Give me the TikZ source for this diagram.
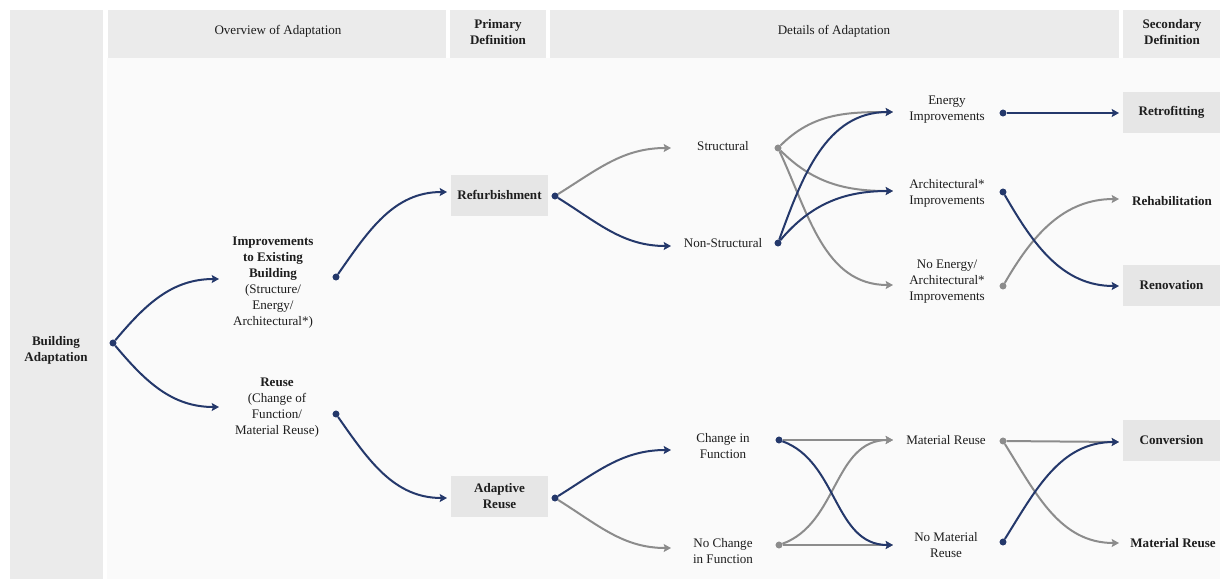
\documentclass[tikz,border=0pt]{standalone}
\usepackage{fontspec}
\setmainfont{Liberation Serif}
\usetikzlibrary{arrows.meta}
\definecolor{navy}{HTML}{24386B}
\definecolor{lgray}{HTML}{8C8C8C}
\definecolor{boxgray}{HTML}{E6E6E6}
\definecolor{hdrgray}{HTML}{EBEBEB}
\definecolor{bggray}{HTML}{FAFAFA}
\definecolor{txt}{HTML}{1E1E1E}
\begin{document}
\begin{tikzpicture}[x=0.75pt,y=0.75pt,
  font=\fontsize{9.8pt}{12pt}\selectfont,
  lbl/.style={align=center, text=txt, inner sep=0pt},
  bl/.style={lbl, font=\fontsize{9.8pt}{12pt}\selectfont\bfseries},
  defbox/.style={fill=boxgray, minimum width=72.75pt, minimum height=30.75pt, inner sep=0pt,
    align=center, text=txt, font=\fontsize{9.8pt}{12pt}\selectfont\bfseries},
  dotb/.style={circle, fill=navy, inner sep=0pt, minimum size=5pt},
  dotg/.style={circle, fill=lgray, inner sep=0pt, minimum size=5pt},
  cb/.style={draw=navy, line width=1.5pt, arrows={-Stealth[length=5.5pt,width=6pt,inset=1pt]}},
  cg/.style={draw=lgray, line width=1.5pt, arrows={-Stealth[length=5.5pt,width=6pt,inset=1pt]}}
]
\useasboundingbox (0,0) rectangle (1220,-579);
% backgrounds
\fill[white] (0,0) rectangle (1220,-579);
\fill[bggray] (107,-58) rectangle (1220,-579);
\fill[hdrgray] (10,-10) rectangle (103,-579);
\fill[hdrgray] (108,-10) rectangle (446,-58);
\fill[hdrgray] (450,-10) rectangle (546,-58);
\fill[hdrgray] (550,-10) rectangle (1119,-58);
\fill[hdrgray] (1123,-10) rectangle (1220,-58);
% header texts
\node[lbl] (h1) at (278,-31) {Overview of Adaptation};
\node[bl] (h2) at (498,-32) {Primary\\Definition};
\node[lbl] (h3) at (834,-31) {Details of Adaptation};
\node[bl] (h4) at (1172,-32) {Secondary\\Definition};

% left column
\node[bl] (ba) at (56,-350) {Building\\Adaptation};
\node[dotb] (dBA) at (113,-343) {};

% overview
\node[lbl] (impr) at (273,-283) {\textbf{Improvements}\\\textbf{to Existing}\\\textbf{Building}\\(Structure/\\Energy/\\Architectural*)};
\node[lbl] (reuse) at (277,-408) {\textbf{Reuse}\\(Change of\\Function/\\Material Reuse)};
\coordinate (tImpr) at (219,-279);
\coordinate (tReuse) at (219,-407);
\node[dotb] (dImpr) at (336,-277) {};
\node[dotb] (dReuse) at (336,-414) {};

% primary
\node[defbox] (refurb) at (499.5,-195) {Refurbishment};
\node[defbox] (adapt) at (499.5,-496.5) {Adaptive\\Reuse};
\coordinate (tRefurb) at (447,-192);
\coordinate (tAdapt) at (447,-498);
\node[dotb] (dRefurb) at (555,-196) {};
\node[dotb] (dAdapt) at (555,-498) {};

% details, first level
\node[lbl] (struct) at (723,-146) {Structural};
\node[lbl] (nonstruct) at (723,-243) {Non-Structural};
\node[lbl] (chg) at (723,-446) {Change in\\Function};
\node[lbl] (nochg) at (723,-551) {No Change\\in Function};
\coordinate (tStruct) at (671,-148);
\coordinate (tNonStruct) at (671,-246);
\coordinate (tChg) at (671,-450);
\coordinate (tNoChg) at (671,-548);
\node[dotg] (dStruct) at (778,-148) {};
\node[dotb] (dNonStruct) at (778,-243) {};
\node[dotb] (dChg) at (779,-440) {};
\node[dotg] (dNoChg) at (779,-545) {};

% details, second level
\node[lbl] (energy) at (947,-110) {Energy\\Improvements};
\node[lbl] (arch) at (947,-193) {Architectural*\\Improvements};
\node[lbl] (noenergy) at (947,-282) {No Energy/\\Architectural*\\Improvements};
\node[lbl] (mat) at (946,-440) {Material Reuse};
\node[lbl] (nomat) at (946,-545) {No Material\\Reuse};
\coordinate (tEnergy) at (893,-112);
\coordinate (tArch) at (893,-191);
\coordinate (tNoEnergy) at (893,-285);
\coordinate (tMat) at (893,-440);
\coordinate (tNoMat) at (893,-545);
\node[dotb] (dEnergy) at (1003,-113) {};
\node[dotb] (dArch) at (1003,-192) {};
\node[dotg] (dNoEnergy) at (1003,-286) {};
\node[dotg] (dMat) at (1003,-441) {};
\node[dotb] (dNoMat) at (1003,-542) {};

% secondary
\node[defbox] (retro) at (1171.5,-112) {Retrofitting};
\node[bl] (rehab) at (1172,-201) {Rehabilitation};
\node[defbox] (renov) at (1171.5,-285) {Renovation};
\node[defbox] (conv) at (1171.5,-440) {Conversion};
\node[bl] (matsec) at (1173,-543) {Material Reuse};
\coordinate (tRetro) at (1119,-113);
\coordinate (tRehab) at (1119,-199);
\coordinate (tRenov) at (1119,-286);
\coordinate (tConv) at (1119,-442);
\coordinate (tMatSec) at (1119,-543);

% gray connectors
\draw[cg] (dRefurb) to[out=32,in=180] (tStruct);
\draw[cg] (dAdapt) to[out=-32,in=180] (tNoChg);
\draw[cg] (dStruct) to[out=45,in=180] (tEnergy);
\draw[cg] (dStruct) to[out=-45,in=180] (tArch);
\draw[cg] (dStruct) to[out=-65,in=180] (tNoEnergy);
\draw[cg] (dNoEnergy) to[out=60,in=180] (tRehab);
\draw[cg] (dChg) -- (tMat);
\draw[cg] (dNoChg) -- (tNoMat);
\draw[cg] (dNoChg) to[out=20,in=180] (tMat);
\draw[cg] (dMat) -- (tConv);
\draw[cg] (dMat) to[out=-58,in=180] (tMatSec);

% blue connectors
\draw[cb] (dBA) to[out=50,in=180] (tImpr);
\draw[cb] (dBA) to[out=-50,in=180] (tReuse);
\draw[cb] (dImpr) to[out=55,in=180] (tRefurb);
\draw[cb] (dReuse) to[out=-55,in=180] (tAdapt);
\draw[cb] (dRefurb) to[out=-32,in=180] (tNonStruct);
\draw[cb] (dAdapt) to[out=32,in=180] (tChg);
\draw[cb] (dNonStruct) to[out=70,in=180] (tEnergy);
\draw[cb] (dNonStruct) to[out=50,in=180] (tArch);
\draw[cb] (dEnergy) -- (tRetro);
\draw[cb] (dArch) to[out=-60,in=180] (tRenov);
\draw[cb] (dChg) to[out=-20,in=180] (tNoMat);
\draw[cb] (dNoMat) to[out=58,in=180] (tConv);

% redraw dots on top
\foreach \d in {dBA,dImpr,dReuse,dRefurb,dAdapt,dNonStruct,dChg,dEnergy,dArch,dNoMat}
  \fill[navy] (\d) circle (2.5pt);
\foreach \d in {dStruct,dNoChg,dNoEnergy,dMat}
  \fill[lgray] (\d) circle (2.5pt);
\end{tikzpicture}
\end{document}
